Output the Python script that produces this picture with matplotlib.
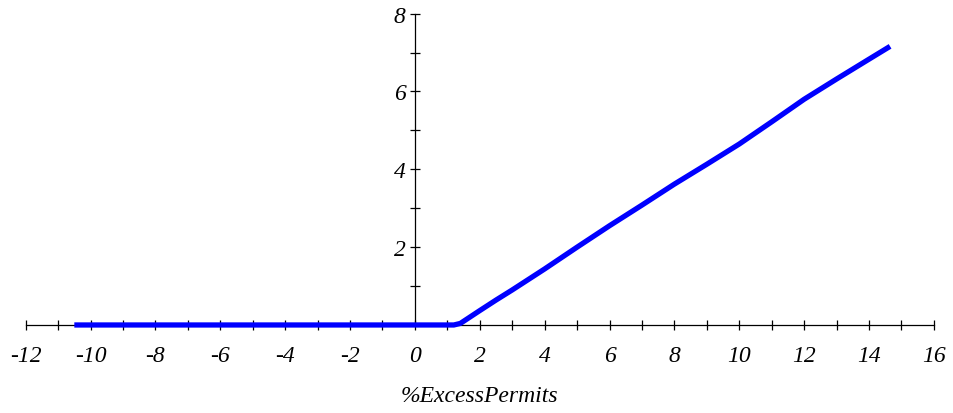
import numpy as np
import matplotlib
matplotlib.use("Agg")
import matplotlib.pyplot as plt
from matplotlib.ticker import MultipleLocator

plt.rcParams['font.family'] = ['Liberation Serif', 'DejaVu Serif']
plt.rcParams['axes.unicode_minus'] = False

# curve
excess = [-10.5, -6.0, -2.0, 0.0, 1.2, 1.4, 1.6, 2.0, 2.5, 3.0, 3.5, 4.0, 5.0, 6.0,
          7.0, 8.0, 9.0, 10.0, 11.0, 12.0, 13.0, 14.0, 14.65]
value = [0.0, 0.0, 0.0, 0.0, 0.0, 0.04, 0.15, 0.37, 0.64, 0.9, 1.17, 1.44, 2.0, 2.55,
         3.08, 3.62, 4.13, 4.65, 5.22, 5.8, 6.32, 6.83, 7.16]
x_label = "%ExcessPermits"

fig = plt.figure(figsize=(9.54, 4.14), dpi=100)
ax = fig.add_axes([0.0269, 0.2126, 0.952, 0.752])

ax.plot(excess, value, color='#0000ff', lw=3.8, solid_capstyle='butt', clip_on=False, zorder=3)

ax.set_xlim(-12, 16)
ax.set_ylim(0, 8)

ax.spines['top'].set_visible(False)
ax.spines['right'].set_visible(False)
ax.spines['left'].set_position(('data', 0))
ax.spines['bottom'].set_position(('data', 0))
for s in ('left', 'bottom'):
    ax.spines[s].set_linewidth(0.9)

ax.xaxis.set_major_locator(MultipleLocator(2))
ax.xaxis.set_minor_locator(MultipleLocator(1))
ax.set_yticks([2, 4, 6, 8])
ax.yaxis.set_minor_locator(MultipleLocator(1))

ax.tick_params(axis='both', which='both', direction='inout', length=7, width=0.9)
ax.tick_params(axis='x', which='major', pad=11, labelsize=17)
ax.tick_params(axis='y', which='major', pad=3, labelsize=17)
for t in ax.get_xticklabels() + ax.get_yticklabels():
    t.set_fontstyle('italic')

fig.text(0.503, 1 - 397 / 414, x_label, ha='center', va='center', fontsize=17, fontstyle='italic')

fig.savefig('out.png', dpi=100)
